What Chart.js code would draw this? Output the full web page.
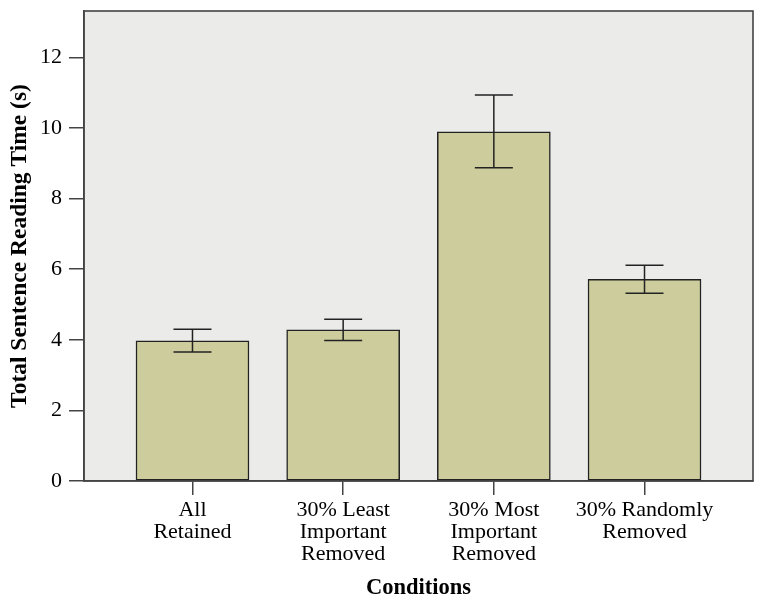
<!DOCTYPE html>
<html>
<head>
<meta charset="utf-8">
<script src="https://cdn.jsdelivr.net/npm/chart.js@4.4.1/dist/chart.umd.min.js"></script>
<style>
html,body{margin:0;padding:0;background:#fff;}
#wrap{width:764px;height:607px;}
</style>
</head>
<body>
<div id="wrap"><canvas id="c" width="764" height="607"></canvas></div>
<script>
const categories = [
  ["All", "Retained"],
  ["30% Least", "Important", "Removed"],
  ["30% Most", "Important", "Removed"],
  ["30% Randomly", "Removed"]
];
const means = [3.97, 4.28, 9.89, 5.71];
const errLow = [3.65, 3.98, 8.87, 5.32];
const errHigh = [4.30, 4.58, 10.93, 6.11];
const yTicks = [0, 2, 4, 6, 8, 10, 12];
const yMax = 13.31;

const SERIF = '"Liberation Serif", "Times New Roman", serif';
const AXIS_COLOR = '#444';

const bgPlugin = {
  id: 'bg',
  beforeDraw(chart) {
    const {ctx, chartArea: a} = chart;
    ctx.save();
    ctx.fillStyle = '#EBECEA';
    ctx.fillRect(a.left, a.top, a.right - a.left, a.bottom - a.top);
    ctx.restore();
  },
  afterDraw(chart) {
    const {ctx, chartArea: a} = chart;
    ctx.save();
    ctx.strokeStyle = AXIS_COLOR;
    ctx.lineWidth = 1.6;
    ctx.strokeRect(a.left, a.top, a.right - a.left, a.bottom - a.top);
    ctx.restore();
  }
};

const errPlugin = {
  id: 'err',
  afterDatasetsDraw(chart) {
    const {ctx} = chart;
    const xs = chart.scales.x, ys = chart.scales.y;
    ctx.save();
    ctx.strokeStyle = '#222';
    ctx.lineWidth = 1.5;
    for (let i = 0; i < means.length; i++) {
      const x = xs.getPixelForValue(i);
      const yh = ys.getPixelForValue(errHigh[i]);
      const yl = ys.getPixelForValue(errLow[i]);
      const half = 19;
      ctx.beginPath();
      ctx.moveTo(x, yh); ctx.lineTo(x, yl);
      ctx.moveTo(x - half, yh); ctx.lineTo(x + half, yh);
      ctx.moveTo(x - half, yl); ctx.lineTo(x + half, yl);
      ctx.stroke();
    }
    ctx.restore();
  }
};

new Chart(document.getElementById('c'), {
  type: 'bar',
  data: {
    datasets: [{
      data: means.map((v, i) => ({x: i, y: v})),
      backgroundColor: '#CCCC9C',
      borderColor: '#222',
      borderWidth: 1.5,
      borderSkipped: false,
      barThickness: 113
    }]
  },
  options: {
    responsive: false,
    animation: false,
    devicePixelRatio: 1,
    layout: {padding: {top: 11, right: 11, left: 0, bottom: 0}},
    plugins: {legend: {display: false}, tooltip: {enabled: false}},
    scales: {
      x: {
        type: 'linear',
        min: -0.72,
        max: 3.72,
        offset: false,
        afterBuildTicks(scale) { scale.ticks = [0, 1, 2, 3].map(v => ({value: v})); },
        afterFit(scale) { scale.height = 126; scale.paddingLeft = 0; scale.paddingRight = 0; },
        grid: {display: true, drawOnChartArea: false, drawTicks: true, tickLength: 14, color: AXIS_COLOR, lineWidth: 1.5, offset: false},
        border: {display: true, color: AXIS_COLOR, width: 1.6},
        ticks: {
          autoSkip: false,
          maxRotation: 0,
          padding: 4,
          color: '#000',
          font: {family: SERIF, size: 22, lineHeight: 1.0},
          callback: (v) => categories[v] || ''
        },
        title: {
          display: true,
          text: 'Conditions',
          color: '#000',
          font: {family: SERIF, size: 22.5, weight: 'bold'},
          padding: {top: 0, bottom: 5}
        }
      },
      y: {
        min: 0,
        max: yMax,
        afterBuildTicks(scale) { scale.ticks = yTicks.map(v => ({value: v})); },
        afterFit(scale) { scale.width = 84; scale.paddingTop = 0; scale.paddingBottom = 0; },
        grid: {display: true, drawOnChartArea: false, drawTicks: true, tickLength: 15, color: AXIS_COLOR, lineWidth: 1.5},
        border: {display: true, color: AXIS_COLOR, width: 1.6},
        ticks: {
          padding: 7,
          color: '#000',
          font: {family: SERIF, size: 22}
        },
        title: {
          display: true,
          text: 'Total Sentence Reading Time (s)',
          color: '#000',
          font: {family: SERIF, size: 23.5, weight: 'bold'},
          padding: {top: 6, bottom: 0}
        }
      }
    }
  },
  plugins: [bgPlugin, errPlugin]
});
</script>
</body>
</html>
